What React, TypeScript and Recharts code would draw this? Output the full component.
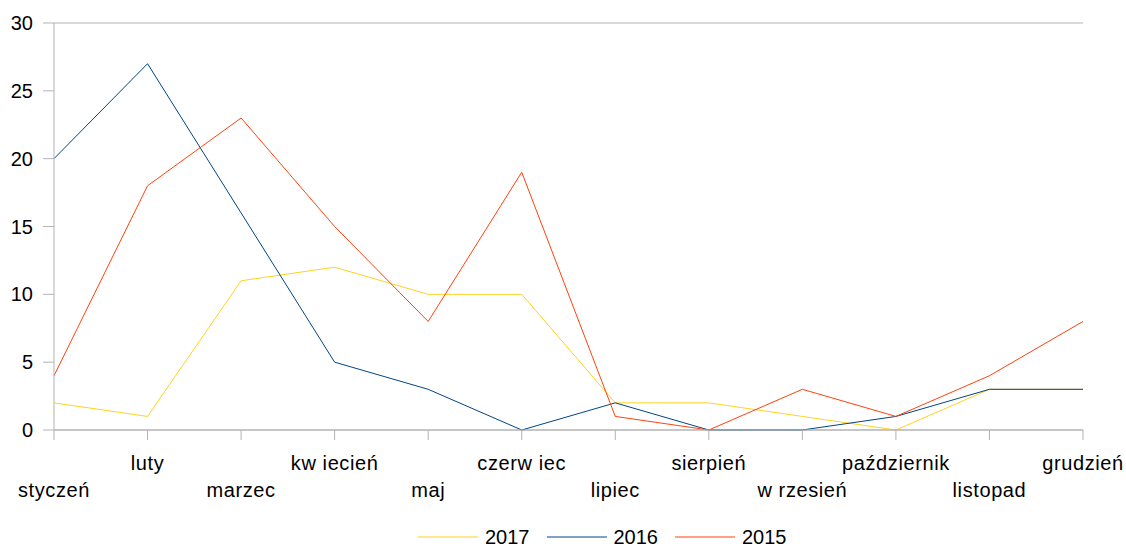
import React from "react";
import {
  LineChart,
  Line,
  XAxis,
  YAxis,
  CartesianGrid,
  Legend,
} from "recharts";

const months = [
  "styczeń",
  "luty",
  "marzec",
  "kw iecień",
  "maj",
  "czerw iec",
  "lipiec",
  "sierpień",
  "w rzesień",
  "październik",
  "listopad",
  "grudzień",
];

const values2017 = [2, 1, 11, 12, 10, 10, 2, 2, 1, 0, 3, 3];
const values2016 = [20, 27, 16, 5, 3, 0, 2, 0, 0, 1, 3, 3];
const values2015 = [4, 18, 23, 15, 8, 19, 1, 0, 3, 1, 4, 8];

const yTicks = [0, 5, 10, 15, 20, 25, 30];

const seriesInfo = [
  { key: "2017", color: "#ffd320" },
  { key: "2016", color: "#004586" },
  { key: "2015", color: "#ff420e" },
];

const data = months.map((m, i) => ({
  month: m,
  "2017": values2017[i],
  "2016": values2016[i],
  "2015": values2015[i],
}));

const FONT = "'Liberation Sans', Arial, sans-serif";
const GRID = "#b3b3b3";

const MonthTick = (props: any) => {
  const { x, y, payload, index } = props;
  const lower = index % 2 === 0;
  return (
    <text
      x={x}
      y={y + (lower ? 57 : 30)}
      textAnchor="middle"
      fill="#000"
      fontSize={20}
      letterSpacing={0.6}
      fontFamily={FONT}
    >
      {payload.value}
    </text>
  );
};

const LegendContent = () => (
  <div
    style={{
      display: "flex",
      alignItems: "center",
      height: 36,
      paddingTop: 18,
      paddingLeft: 418,
      boxSizing: "border-box",
      fontFamily: FONT,
      fontSize: 20,
      color: "#000",
    }}
  >
    {seriesInfo.map((s) => (
      <div key={s.key} style={{ display: "flex", alignItems: "center", marginRight: 17 }}>
        <svg width={60} height={4} style={{ marginRight: 7 }}>
          <line x1={0} y1={2} x2={60} y2={2} stroke={s.color} strokeWidth={1} />
        </svg>
        <span>{s.key}</span>
      </div>
    ))}
  </div>
);

export default function App() {
  return (
    <div style={{ position: "absolute", left: 0, top: 0, width: 1126, height: 546, background: "#fff" }}>
      <LineChart
        width={1126}
        height={546}
        data={data}
        margin={{ top: 23, right: 43, left: 0, bottom: 0 }}
      >
        <CartesianGrid vertical={false} stroke={GRID} />
        <XAxis
          dataKey="month"
          interval={0}
          tick={<MonthTick />}
          tickSize={10}
          tickMargin={0}
          height={80}
          axisLine={{ stroke: GRID }}
          tickLine={{ stroke: GRID }}
          padding={{ left: 0, right: 0 }}
        />
        <YAxis
          yAxisId="left"
          domain={[0, 30]}
          ticks={yTicks}
          width={54}
          tickSize={11}
          tickMargin={10}
          axisLine={{ stroke: GRID }}
          tickLine={{ stroke: GRID }}
          tick={{ fill: "#000", fontSize: 20, fontFamily: FONT }}
        />
        <YAxis
          yAxisId="right"
          orientation="right"
          domain={[0, 30]}
          width={0}
          tick={false}
          tickLine={false}
          axisLine={{ stroke: GRID }}
        />
        <Legend verticalAlign="bottom" wrapperStyle={{ left: 0, width: 1126, bottom: 0 }} content={<LegendContent />} />
        {seriesInfo.map((s) => (
          <Line
            key={s.key}
            yAxisId="left"
            type="linear"
            dataKey={s.key}
            stroke={s.color}
            strokeWidth={1}
            dot={false}
            activeDot={false}
            isAnimationActive={false}
          />
        ))}
      </LineChart>
    </div>
  );
}
